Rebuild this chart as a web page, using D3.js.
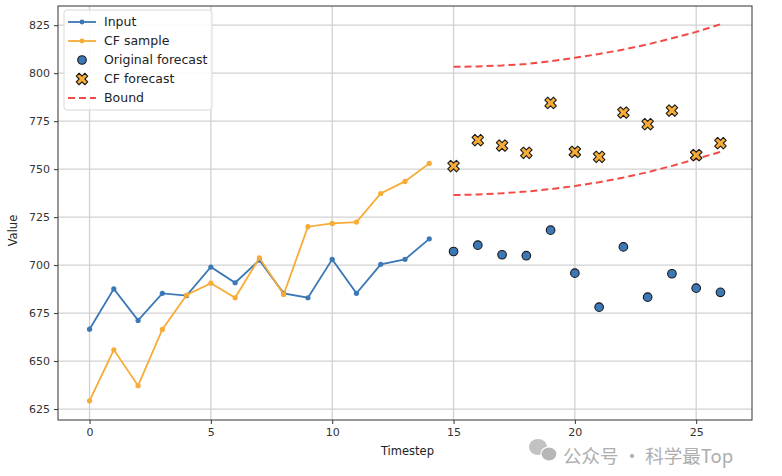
<!DOCTYPE html>
<html>
<head>
<meta charset="utf-8">
<script src="https://cdn.jsdelivr.net/npm/d3@7"></script>
<style>
  body { margin: 0; background: #fff; }
  svg { font-family: "DejaVu Sans", sans-serif; }
</style>
</head>
<body>
<div id="chart"></div>
<script>
// past window: t = 0..14, forecast: t = 15..26
const inputSteps = d3.range(0, 15);
const forecastSteps = d3.range(15, 27);

const inputValues = [666.6, 687.6, 671.2, 685.3, 684.1, 699.0, 690.8, 702.6, 685.3, 683.0, 703.0, 685.3, 700.4, 703.0, 713.7];
const cfSampleValues = [629.3, 655.9, 637.2, 666.5, 684.4, 690.6, 683.0, 703.8, 684.7, 720.0, 721.7, 722.4, 737.3, 743.6, 753.0];
const originalForecast = [707.1, 710.4, 705.4, 704.9, 718.2, 695.8, 678.1, 709.5, 683.3, 695.5, 688.0, 685.8];
const cfForecast = [751.6, 765.1, 762.3, 758.5, 784.5, 759.0, 756.4, 779.5, 773.4, 780.5, 757.3, 763.5];
const upperBound = [803.3, 803.5, 804.0, 804.8, 806.2, 808.0, 810.0, 812.3, 815.0, 818.2, 821.5, 825.5];
const lowerBound = [736.5, 736.8, 737.4, 738.3, 739.6, 741.2, 743.2, 745.6, 748.4, 751.7, 755.3, 759.0];

const xTicks = [0, 5, 10, 15, 20, 25];
const yTicks = [625, 650, 675, 700, 725, 750, 775, 800, 825];

const width = 782, height = 476;
const margin = { top: 6, right: 30, bottom: 56, left: 58 };
const innerW = width - margin.left - margin.right;
const innerH = height - margin.top - margin.bottom;

const colBlue = "#3b78b5";
const colOrange = "#f6ac36";
const colRed = "#f24a46";

const xScale = d3.scaleLinear().domain([-1.3, 27.3]).range([0, innerW]);
const yScale = d3.scaleLinear().domain([619.3, 835]).range([innerH, 0]);

const svg = d3.select("#chart").append("svg")
    .attr("width", width)
    .attr("height", height);

const g = svg.append("g")
    .attr("transform", "translate(" + margin.left + "," + margin.top + ")");

// grid
g.append("g").selectAll("line").data(xTicks).join("line")
    .attr("x1", d => xScale(d)).attr("x2", d => xScale(d))
    .attr("y1", 0).attr("y2", innerH)
    .attr("stroke", "#d2d2d2").attr("stroke-width", 1.3);
g.append("g").selectAll("line").data(yTicks).join("line")
    .attr("y1", d => yScale(d)).attr("y2", d => yScale(d))
    .attr("x1", 0).attr("x2", innerW)
    .attr("stroke", "#d2d2d2").attr("stroke-width", 1.3);

// axes
const xAxis = g.append("g")
    .attr("transform", "translate(0," + innerH + ")")
    .call(d3.axisBottom(xScale).tickValues(xTicks).tickSize(4).tickPadding(4));
const yAxis = g.append("g")
    .call(d3.axisLeft(yScale).tickValues(yTicks).tickSize(4).tickPadding(4));
[xAxis, yAxis].forEach(a => {
    a.select(".domain").remove();
    a.selectAll("line").attr("stroke", "#333");
    a.selectAll("text").attr("fill", "#333").style("font-size", "11px")
        .style("font-family", "'DejaVu Sans', sans-serif");
});

// frame
g.append("rect")
    .attr("width", innerW).attr("height", innerH)
    .attr("fill", "none").attr("stroke", "#333").attr("stroke-width", 1);

// axis labels
svg.append("text")
    .attr("x", margin.left + xScale(13.1)).attr("y", 455)
    .attr("text-anchor", "middle").attr("fill", "#222")
    .style("font-size", "11.5px").text("Timestep");
svg.append("text")
    .attr("transform", "translate(17," + (margin.top + yScale(718)) + ") rotate(-90)")
    .attr("text-anchor", "middle").attr("fill", "#222")
    .style("font-size", "11.5px").text("Value");

const line = d3.line()
    .x(d => xScale(d[0]))
    .y(d => yScale(d[1]));

function drawSeries(steps, values, color) {
    const pts = steps.map((t, i) => [t, values[i]]);
    g.append("path").datum(pts)
        .attr("d", line)
        .attr("fill", "none").attr("stroke", color).attr("stroke-width", 1.8);
    g.append("g").selectAll("circle").data(pts).join("circle")
        .attr("cx", d => xScale(d[0])).attr("cy", d => yScale(d[1]))
        .attr("r", 2.6).attr("fill", color);
}

drawSeries(inputSteps, inputValues, colBlue);
drawSeries(inputSteps, cfSampleValues, colOrange);

// bounds
[upperBound, lowerBound].forEach(b => {
    g.append("path").datum(forecastSteps.map((t, i) => [t, b[i]]))
        .attr("d", line)
        .attr("fill", "none").attr("stroke", colRed)
        .attr("stroke-width", 2).attr("stroke-dasharray", "7,4");
});

// original forecast dots
g.append("g").selectAll("circle")
    .data(forecastSteps.map((t, i) => [t, originalForecast[i]]))
    .join("circle")
    .attr("cx", d => xScale(d[0])).attr("cy", d => yScale(d[1]))
    .attr("r", 4.3).attr("fill", colBlue)
    .attr("stroke", "#1a1a1a").attr("stroke-width", 1.1);

// filled X marker like matplotlib "X"
const xShape = [[-0.25, -0.5], [0, -0.25], [0.25, -0.5], [0.5, -0.25], [0.25, 0], [0.5, 0.25],
    [0.25, 0.5], [0, 0.25], [-0.25, 0.5], [-0.5, 0.25], [-0.25, 0], [-0.5, -0.25]];
function xPath(cx, cy, s) {
    return "M" + xShape.map(p => (cx + p[0] * s) + "," + (cy + p[1] * s)).join("L") + "Z";
}

g.append("g").selectAll("path")
    .data(forecastSteps.map((t, i) => [t, cfForecast[i]]))
    .join("path")
    .attr("d", d => xPath(xScale(d[0]), yScale(d[1]), 11.5))
    .attr("fill", colOrange)
    .attr("stroke", "#1a1a1a").attr("stroke-width", 1.1)
    .attr("stroke-linejoin", "round");

// legend
const legend = svg.append("g").attr("transform", "translate(64,10)");
legend.append("rect")
    .attr("width", 148).attr("height", 100).attr("rx", 3)
    .attr("fill", "#fff").attr("fill-opacity", 0.85)
    .attr("stroke", "#d8d8d8").attr("stroke-width", 1);

const legendItems = ["Input", "CF sample", "Original forecast", "CF forecast", "Bound"];
legendItems.forEach((name, i) => {
    const y = 12 + i * 19;
    const row = legend.append("g").attr("transform", "translate(0," + y + ")");
    if (i < 2) {
        const c = i === 0 ? colBlue : colOrange;
        row.append("line").attr("x1", 4).attr("x2", 32).attr("y1", 0).attr("y2", 0)
            .attr("stroke", c).attr("stroke-width", 1.8);
        row.append("circle").attr("cx", 18).attr("cy", 0).attr("r", 2.4).attr("fill", c);
    } else if (i === 2) {
        row.append("circle").attr("cx", 18).attr("cy", 0).attr("r", 4.3)
            .attr("fill", colBlue).attr("stroke", "#1a1a1a").attr("stroke-width", 1.1);
    } else if (i === 3) {
        row.append("path").attr("d", xPath(18, 0, 11.5))
            .attr("fill", colOrange).attr("stroke", "#1a1a1a").attr("stroke-width", 1.1)
            .attr("stroke-linejoin", "round");
    } else {
        row.append("line").attr("x1", 4).attr("x2", 32).attr("y1", 0).attr("y2", 0)
            .attr("stroke", colRed).attr("stroke-width", 2).attr("stroke-dasharray", "7,4");
    }
    row.append("text").attr("x", 40).attr("y", 0).attr("dy", "0.35em")
        .attr("fill", "#222").style("font-size", "12.5px").text(name);
});

// watermark (nudged below the tick labels)
const wm = svg.append("g").attr("opacity", 0.8);
wm.append("ellipse").attr("cx", 538).attr("cy", 447).attr("rx", 9).attr("ry", 8).attr("fill", "#b4b4b4");
wm.append("ellipse").attr("cx", 549).attr("cy", 454).attr("rx", 8).attr("ry", 7).attr("fill", "#a4a4a4")
    .attr("stroke", "#fff").attr("stroke-width", 1.2);
wm.append("text").attr("x", 563).attr("y", 463)
    .attr("fill", "#9a9a9a")
    .style("font-family", "'Noto Sans CJK SC', sans-serif").style("font-size", "18.5px")
    .text("公众号 · 科学最Top");
</script>
</body>
</html>
